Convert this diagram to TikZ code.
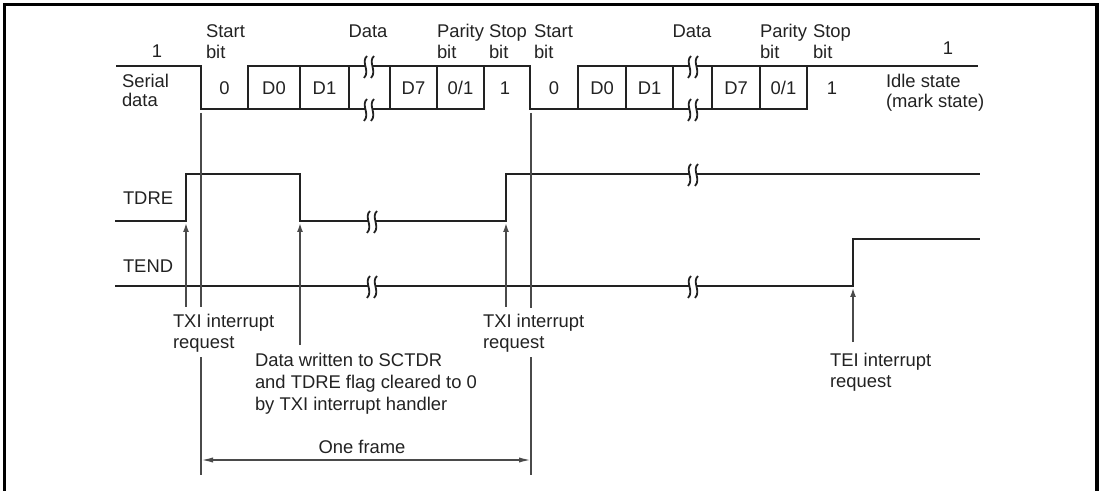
\documentclass[tikz,border=0pt]{standalone}
\usepackage{fontspec}
\setmainfont{Liberation Sans}
\usetikzlibrary{arrows.meta}
\definecolor{ink}{HTML}{222222}
\definecolor{thin}{HTML}{4a4a4a}
\newcommand\wavebreak[2]{%
  \fill[white] ({#1-3.6},{#2-4}) rectangle ({#1+3.6},{#2+4});
  \draw[brk] ({#1-3.5+1.5},{#2-10}) .. controls ({#1-3.5-5},{#2-4}) and ({#1-3.5+5},{#2+5}) .. ({#1-3.5-1.5},{#2+12});
  \draw[brk] ({#1+3.5+1.5},{#2-10}) .. controls ({#1+3.5-5},{#2-4}) and ({#1+3.5+5},{#2+5}) .. ({#1+3.5-1.5},{#2+12});
}
\begin{document}
\begin{tikzpicture}[x=0.5pt,y=-0.5pt,
  wave/.style={line width=1.3pt, draw=ink, line join=miter},
  guide/.style={line width=0.8pt, draw=thin},
  brk/.style={line width=0.9pt, draw=ink},
  lbl/.style={inner sep=0pt, outer sep=0pt, font=\fontsize{9.2}{11}\selectfont, text=ink},
  uparrow/.style={guide, -{Latex[length=4.5pt,width=3pt]}},
  framearrow/.style={guide, {Latex[length=6pt,width=2.6pt]}-{Latex[length=6pt,width=2.6pt]}},
  frm/.style={line width=1.6pt, draw=black}]
\useasboundingbox (0,0) rectangle (1101,491);
\draw[frm] (4.5,491) -- (4.5,4.5) -- (1097,4.5) -- (1097,491);

% ---------------- serial data ----------------
\draw[wave] (116,66) -- (201,66) -- (201,109) -- (484,109) -- (484,66);
\draw[wave] (248,109) -- (248,66) -- (530,66) -- (530,109) -- (807,109) -- (807,66);
\draw[wave] (578,109) -- (578,66) -- (978,66);
\foreach \xx in {300,349,390,437,626,673,712,760}
  \draw[wave] (\xx,66) -- (\xx,109);
\wavebreak{369}{66}
\wavebreak{369}{109}
\wavebreak{693}{66}
\wavebreak{693}{109}

% ---------------- TDRE ----------------
\draw[wave] (115,221) -- (186,221) -- (186,174) -- (300,174) -- (300,221) -- (506,221) -- (506,174) -- (980,174);
\wavebreak{372}{221}
\wavebreak{693}{174}

% ---------------- TEND ----------------
\draw[wave] (115,286) -- (853,286) -- (853,239) -- (980,239);
\wavebreak{372}{286}
\wavebreak{693}{286}

% ---------------- labels top ----------------
\node[lbl, anchor=base] (one1) at (157,58) {1};
\node[lbl, anchor=base west] (start1a) at (206,38) {Start};
\node[lbl, anchor=base west] (start1b) at (206,59) {bit};
\node[lbl, anchor=base] (data1) at (368,38) {Data};
\node[lbl, anchor=base west] (par1a) at (437,38) {Parity};
\node[lbl, anchor=base west] (par1b) at (437,59) {bit};
\node[lbl, anchor=base west] (stop1a) at (489,38) {Stop};
\node[lbl, anchor=base west] (stop1b) at (489,59) {bit};
\node[lbl, anchor=base west] (start2a) at (534,38) {Start};
\node[lbl, anchor=base west] (start2b) at (534,59) {bit};
\node[lbl, anchor=base] (data2) at (692,38) {Data};
\node[lbl, anchor=base west] (par2a) at (760,38) {Parity};
\node[lbl, anchor=base west] (par2b) at (760,59) {bit};
\node[lbl, anchor=base west] (stop2a) at (813,38) {Stop};
\node[lbl, anchor=base west] (stop2b) at (813,59) {bit};
\node[lbl, anchor=base] (one2) at (948,55) {1};

\node[lbl, anchor=base west] (sera) at (122,88) {Serial};
\node[lbl, anchor=base west] (serb) at (122,107) {data};
\node[lbl, anchor=base west] (idlea) at (886,88) {Idle state};
\node[lbl, anchor=base west] (idleb) at (886,108) {(mark state)};

% bit contents
\node[lbl, anchor=base] (b1) at (224.5,95) {0};
\node[lbl, anchor=base] (b2) at (274,95) {D0};
\node[lbl, anchor=base] (b3) at (324.5,95) {D1};
\node[lbl, anchor=base] (b4) at (413.5,95) {D7};
\node[lbl, anchor=base] (b5) at (460.5,95) {0/1};
\node[lbl, anchor=base] (b6) at (505,95) {1};
\node[lbl, anchor=base] (b7) at (554,95) {0};
\node[lbl, anchor=base] (b8) at (602,95) {D0};
\node[lbl, anchor=base] (b9) at (649.5,95) {D1};
\node[lbl, anchor=base] (b10) at (736,95) {D7};
\node[lbl, anchor=base] (b11) at (783.5,95) {0/1};
\node[lbl, anchor=base] (b12) at (832,95) {1};

% signal names
\node[lbl, anchor=base west] (tdre) at (123,205) {TDRE};
\node[lbl, anchor=base west] (tend) at (123,273) {TEND};

% ---------------- bottom labels ----------------
\node[lbl, anchor=base west] (txi1a) at (173,328) {TXI interrupt};
\node[lbl, anchor=base west] (txi1b) at (173,349) {request};
\node[lbl, anchor=base west] (txi2a) at (483,328) {TXI interrupt};
\node[lbl, anchor=base west] (txi2b) at (483,349) {request};
\node[lbl, anchor=base west] (dwa) at (255,366) {Data written to SCTDR};
\node[lbl, anchor=base west] (dwb) at (255,388) {and TDRE flag cleared to 0};
\node[lbl, anchor=base west] (dwc) at (255,410) {by TXI interrupt handler};
\node[lbl, anchor=base west] (teia) at (830,366) {TEI interrupt};
\node[lbl, anchor=base west] (teib) at (830,387) {request};
\node[lbl, anchor=base] (oneframe) at (362,453) {One frame};

% ---------------- guide lines ----------------
\coordinate (g1top) at (201,113);
\coordinate (g1mid) at (201,307);
\coordinate (g1low) at (201,357);
\coordinate (g1bot) at (201,475);
\coordinate (g2top) at (531,113);
\coordinate (g2mid) at (531,308);
\coordinate (g2low) at (531,357);
\coordinate (g2bot) at (531,475);
\draw[guide] (g1top) -- (g1mid);
\draw[guide] (g1low) -- (g1bot);
\draw[guide] (g2top) -- (g2mid);
\draw[guide] (g2low) -- (g2bot);

% ---------------- arrows ----------------
\coordinate (a1s) at (186,307);
\coordinate (a1e) at (186,223);
\coordinate (a2s) at (300,345);
\coordinate (a2e) at (300,223);
\coordinate (a3s) at (506,307);
\coordinate (a3e) at (506,223);
\coordinate (a4s) at (853,342);
\coordinate (a4e) at (853,288);
\draw[uparrow] (a1s) -- (a1e);
\draw[uparrow] (a2s) -- (a2e);
\draw[uparrow] (a3s) -- (a3e);
\draw[uparrow] (a4s) -- (a4e);

\coordinate (fl) at (201,460);
\coordinate (fr) at (531,460);
\draw[framearrow] (fl) -- (fr);
\end{tikzpicture}
\end{document}
